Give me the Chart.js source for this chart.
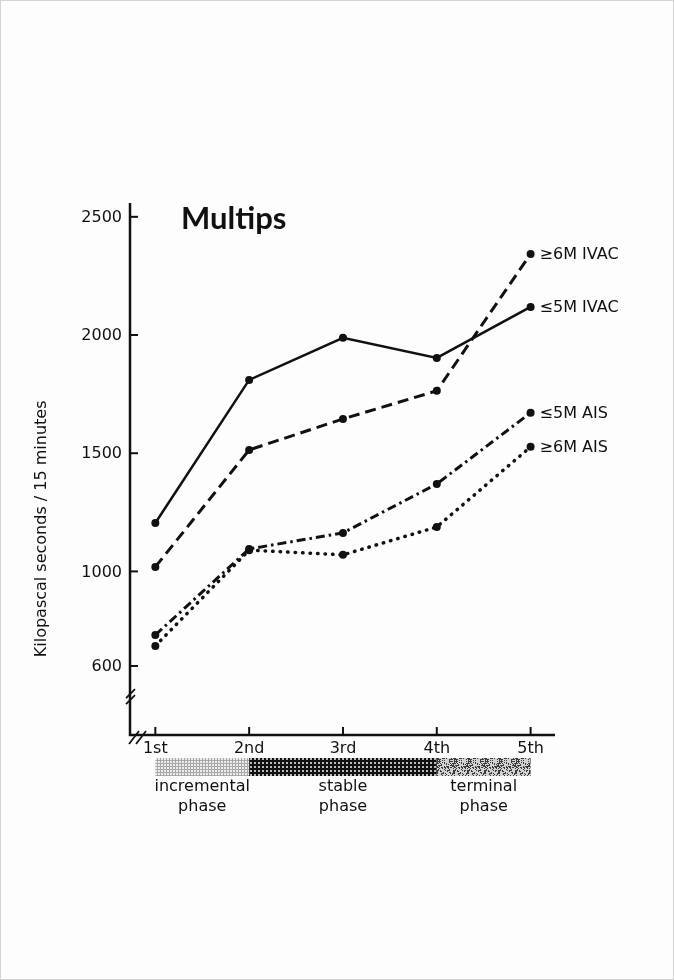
<!DOCTYPE html>
<html>
<head>
<meta charset="utf-8">
<script src="https://cdn.jsdelivr.net/npm/chart.js@4"></script>
<style>
  body { margin: 0; background: #fff; }
  #wrap { width: 672px; height: 978px; border: 1px solid #d4d4d4; background: #fdfdfd; }
</style>
</head>
<body>
<div id="wrap"><canvas id="multipsChart" width="672" height="978"></canvas></div>
<script>
//x categories (training stage) and the values
var stages = ["1st", "2nd", "3rd", "4th", "5th"];
var yTicks = [600, 1000, 1500, 2000, 2500];

var seriesNames = ["\u22645M IVAC", "\u22656M IVAC", "\u22645M AIS", "\u22656M AIS"];

var ivacLow = [1205, 1810, 1988, 1903, 2119];   // <=5M IVAC, solid
var ivacHigh = [1019, 1514, 1645, 1764, 2343];  // >=6M IVAC, dashed
var aisLow = [731, 1095, 1163, 1370, 1671];     // <=5M AIS, dash-dot
var aisHigh = [685, 1090, 1070, 1188, 1527];    // >=6M AIS, dotted

//phases under the x axis
var phaseNames = [["incremental", "phase"], ["stable", "phase"], ["terminal", "phase"]];
var phaseFrom = [1, 2, 4];
var phaseTo = [2, 4, 5];

var FONT = "'DejaVu Sans', sans-serif";

function toPoints(arr) {
    var out = [];
    for (var i = 0; i < arr.length; i++) {
        out.push({x: i + 1, y: arr[i]});
    }
    return out;
}

//little fill patterns for the phase bar
function makePattern(kind) {
    var c = document.createElement("canvas");
    var g = c.getContext("2d");
    if (kind == 0) {
        c.width = 3; c.height = 3;
        g.fillStyle = "#ececec"; g.fillRect(0, 0, 3, 3);
        g.fillStyle = "#a8a8a8"; g.fillRect(0, 0, 3, 1); g.fillRect(0, 0, 1, 3);
    } else if (kind == 1) {
        c.width = 4; c.height = 4;
        g.fillStyle = "#111"; g.fillRect(0, 0, 4, 4);
        g.fillStyle = "#bbb"; g.fillRect(1, 1, 2, 2);
    } else {
        c.width = 31; c.height = 19;
        g.fillStyle = "#d2d2d2"; g.fillRect(0, 0, 31, 19);
        g.fillStyle = "#3a3a3a";
        for (var x = 0; x < 31; x++) {
            for (var y = 0; y < 19; y++) {
                if ((x * x * 7 + y * y * 13 + x * y * 5 + x * 3) % 17 < 7) g.fillRect(x, y, 1, 1);
            }
        }
    }
    return g.createPattern(c, "repeat");
}

var axesPlugin = {
    id: "axesPlugin",
    afterDatasetsDraw: function(chart) {
        var ctx = chart.ctx;
        var xs = chart.scales.x, ys = chart.scales.y;
        var area = chart.chartArea;
        var left = area.left, bottom = area.bottom;

        ctx.save();
        ctx.strokeStyle = "#111";
        ctx.fillStyle = "#111";
        ctx.lineWidth = 2.5;
        ctx.lineCap = "butt";

        //axis lines
        ctx.beginPath();
        ctx.moveTo(left, area.top - 2);
        ctx.lineTo(left, bottom);
        ctx.lineTo(xs.getPixelForValue(5.26), bottom);
        ctx.stroke();

        //inward ticks
        ctx.lineWidth = 2;
        yTicks.forEach(function(v) {
            var py = ys.getPixelForValue(v);
            ctx.beginPath(); ctx.moveTo(left, py); ctx.lineTo(left + 8, py); ctx.stroke();
        });
        stages.forEach(function(s, i) {
            var px = xs.getPixelForValue(i + 1);
            ctx.beginPath(); ctx.moveTo(px, bottom); ctx.lineTo(px, bottom - 8); ctx.stroke();
        });

        //break marks "//"
        ctx.lineWidth = 1.8;
        var by = ys.getPixelForValue(485);
        for (var k = 0; k < 2; k++) {
            ctx.beginPath();
            ctx.moveTo(left - 4, by + 5 + k * 6);
            ctx.lineTo(left + 5, by - 4 + k * 6);
            ctx.stroke();
        }
        for (var k = 0; k < 2; k++) {
            ctx.beginPath();
            ctx.moveTo(left - 1 + k * 7, bottom + 9);
            ctx.lineTo(left + 9 + k * 7, bottom - 4);
            ctx.stroke();
        }

        //tick labels
        ctx.font = "16px " + FONT;
        ctx.textAlign = "right";
        ctx.textBaseline = "middle";
        yTicks.forEach(function(v) {
            ctx.fillText(String(v), left - 8, ys.getPixelForValue(v) + 1);
        });
        ctx.textAlign = "center";
        ctx.textBaseline = "top";
        stages.forEach(function(s, i) {
            ctx.fillText(s, xs.getPixelForValue(i + 1), bottom + 6);
        });

        //y title
        ctx.save();
        ctx.translate(41, ys.getPixelForValue(1180));
        ctx.rotate(-Math.PI / 2);
        ctx.textAlign = "center";
        ctx.textBaseline = "middle";
        ctx.font = "16px " + FONT;
        ctx.fillText("Kilopascal seconds / 15 minutes", 0, 0);
        ctx.restore();

        //title
        ctx.font = "bold 31px Lato, " + FONT;
        ctx.textAlign = "left";
        ctx.textBaseline = "alphabetic";
        ctx.fillText("Multips", 180, 228);

        //series labels at line ends
        ctx.font = "16px " + FONT;
        ctx.textBaseline = "middle";
        chart.data.datasets.forEach(function(ds, i) {
            var last = ds.data[ds.data.length - 1];
            ctx.fillText(seriesNames[i], xs.getPixelForValue(last.x) + 9, ys.getPixelForValue(last.y) + 1);
        });

        //phase bar and labels
        var barTop = bottom + 23, barH = 18;
        ctx.font = "16px " + FONT;
        ctx.textAlign = "center";
        ctx.textBaseline = "top";
        for (var p = 0; p < phaseNames.length; p++) {
            var x0 = xs.getPixelForValue(phaseFrom[p]);
            var x1 = xs.getPixelForValue(phaseTo[p]);
            ctx.fillStyle = makePattern(p);
            ctx.fillRect(x0, barTop, x1 - x0, barH);
            ctx.fillStyle = "#111";
            var cx = (x0 + x1) / 2;
            ctx.fillText(phaseNames[p][0], cx, barTop + 21);
            ctx.fillText(phaseNames[p][1], cx, barTop + 41);
        }
        ctx.restore();
    }
};

var ctx = document.getElementById("multipsChart");
var multipsChart = new Chart(ctx, {
    type: 'line',
    data: {
        datasets: [
            {
                data: toPoints(ivacLow),
                borderColor: "#111",
                borderWidth: 2.5,
                pointRadius: 4,
                pointBackgroundColor: "#111",
                pointBorderWidth: 0,
                fill: false
            },
            {
                data: toPoints(ivacHigh),
                borderColor: "#111",
                borderWidth: 3,
                borderDash: [11, 6],
                pointRadius: 4,
                pointBackgroundColor: "#111",
                pointBorderWidth: 0,
                fill: false
            },
            {
                data: toPoints(aisLow),
                borderColor: "#111",
                borderWidth: 3,
                borderDash: [9, 4, 2.5, 4],
                pointRadius: 4,
                pointBackgroundColor: "#111",
                pointBorderWidth: 0,
                fill: false
            },
            {
                data: toPoints(aisHigh),
                borderColor: "#111",
                borderWidth: 3.5,
                borderDash: [0.5, 7],
                borderCapStyle: "round",
                pointRadius: 4,
                pointBackgroundColor: "#111",
                pointBorderWidth: 0,
                fill: false
            }
        ]
    },
    options: {
        responsive: false,
        animation: false,
        devicePixelRatio: 1,
        layout: { padding: { left: 129, right: 118, top: 204, bottom: 244 } },
        plugins: { legend: { display: false }, tooltip: { enabled: false } },
        scales: {
            x: { type: 'linear', min: 0.73, max: 5.26, display: false },
            y: { type: 'linear', min: 308, max: 2550, display: false }
        }
    },
    plugins: [axesPlugin]
});
</script>
</body>
</html>
